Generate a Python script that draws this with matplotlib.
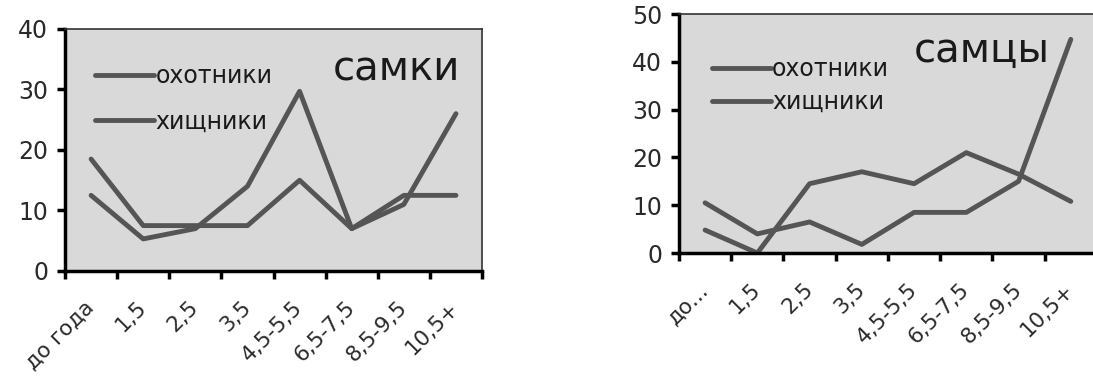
import matplotlib.pyplot as plt
import numpy as np
from matplotlib.ticker import FixedLocator

# age groups
cats_f = ['до года', '1,5', '2,5', '3,5', '4,5-5,5', '6,5-7,5', '8,5-9,5', '10,5+']
cats_m = ['до...', '1,5', '2,5', '3,5', '4,5-5,5', '6,5-7,5', '8,5-9,5', '10,5+']

# самки
f_hunters = [18.5, 7.5, 7.5, 7.5, 15, 7, 12.5, 12.5]
f_predators = [12.5, 5.3, 7, 14, 29.7, 7, 11, 26]

# самцы
m_hunters = [10.5, 4, 6.5, 1.8, 8.5, 8.5, 15, 44.7]
m_predators = [4.8, 0, 14.5, 17, 14.5, 21, 16.5, 10.8]

LINE = '#555555'
BG = '#d9d9d9'

fig = plt.figure(figsize=(10.93, 3.76), dpi=100)

def draw(ax, cats, s1, s2, ymax, title, tpos, legpos, legspace):
    x = np.arange(len(cats))
    ax.set_facecolor(BG)
    ax.plot(x, s1, color=LINE, lw=3.5, label='охотники', solid_capstyle='round')
    ax.plot(x, s2, color=LINE, lw=3.5, label='хищники', solid_capstyle='round')
    ax.set_xlim(-0.5, len(cats) - 0.5)
    ax.set_ylim(0, ymax)
    ax.set_yticks(np.arange(0, ymax + 1, 10))
    ax.xaxis.set_major_locator(FixedLocator(np.arange(len(cats) + 1) - 0.5))
    ax.xaxis.set_minor_locator(FixedLocator(x))
    ax.set_xticklabels([], minor=False)
    ax.set_xticklabels(cats, minor=True)
    ax.tick_params(axis='x', which='major', direction='out', length=6, width=2.5)
    ax.tick_params(axis='x', which='minor', length=0, pad=24, labelsize=15.5,
                   labelcolor='#2a2a2a')
    ax.tick_params(axis='y', direction='out', length=6, width=2.5, pad=6, labelsize=17,
                   labelcolor='#2a2a2a')
    for lab in ax.get_xticklabels(minor=True):
        lab.set_rotation(45)
        lab.set_ha('right')
        lab.set_va('center')
        lab.set_rotation_mode('anchor')
    for s in ['left', 'bottom']:
        ax.spines[s].set_linewidth(2.5)
    for s in ['top', 'right']:
        ax.spines[s].set_linewidth(1.2)
        ax.spines[s].set_color('#333333')
    ax.legend(loc='upper left', bbox_to_anchor=legpos, frameon=False, fontsize=17,
              handlelength=2.5, handletextpad=0.05, borderpad=0, borderaxespad=0,
              labelspacing=legspace, labelcolor='#1a1a1a')
    ax.text(tpos[0], tpos[1], title, transform=ax.transAxes, ha='right',
            va='baseline', fontsize=29, color='#1a1a1a')

ax1 = fig.add_axes([0.0595, 0.2793, 0.3815, 0.6436])
draw(ax1, cats_f, f_hunters, f_predators, 40, 'самки', (0.947, 0.789), (0.072, 0.855), 0.9)

ax2 = fig.add_axes([0.6212, 0.3271, 0.3824, 0.6356])
draw(ax2, cats_m, m_hunters, m_predators, 50, 'самцы', (0.888, 0.80), (0.079, 0.82), 0.37)

fig.savefig('out.png', dpi=100)
